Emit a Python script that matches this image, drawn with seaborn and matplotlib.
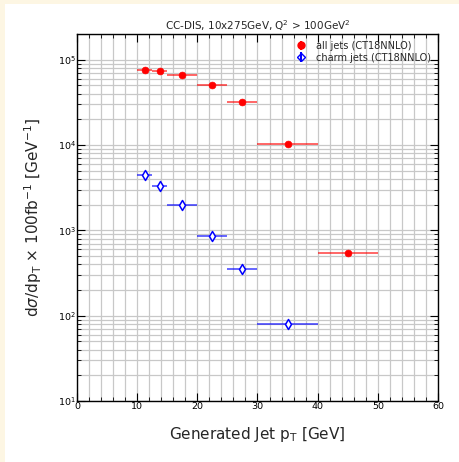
import numpy as np
import pandas as pd
import matplotlib
matplotlib.use("Agg")
import matplotlib.pyplot as plt
import seaborn as sns
from matplotlib.patches import Rectangle
from matplotlib.ticker import LogLocator, MultipleLocator, NullFormatter

# Data
bin_lo = [10, 12.5, 15, 20, 25, 30, 40]
bin_hi = [12.5, 15, 20, 25, 30, 40, 50]
all_jets = [7.6e4, 7.4e4, 6.7e4, 5.1e4, 3.2e4, 1.03e4, 540]
charm_lo = [10, 12.5, 15, 20, 25, 30]
charm_hi = [12.5, 15, 20, 25, 30, 40]
charm_jets = [4400, 3350, 1960, 850, 350, 80]

sns.set_theme(style="white")
plt.rcParams['font.family'] = ['DejaVu Sans']

fig = plt.figure(figsize=(4.6, 4.62), dpi=100)
fig.patch.set_facecolor('#fdf6e3')
fig.patches.append(Rectangle((5/460, 0), 1, 1 - 4/462, transform=fig.transFigure,
                             facecolor='white', edgecolor='none', zorder=-10))
ax = fig.add_axes([77/460, 1 - 401/462, (438-77)/460, (401-34)/462])
ax.set_facecolor('white')

df_all = pd.DataFrame({'lo': bin_lo, 'hi': bin_hi, 'y': all_jets})
df_all['x'] = (df_all['lo'] + df_all['hi']) / 2
df_all['xerr'] = (df_all['hi'] - df_all['lo']) / 2
df_c = pd.DataFrame({'lo': charm_lo, 'hi': charm_hi, 'y': charm_jets})
df_c['x'] = (df_c['lo'] + df_c['hi']) / 2
df_c['xerr'] = (df_c['hi'] - df_c['lo']) / 2

ax.errorbar(df_all['x'], df_all['y'], xerr=df_all['xerr'], fmt='none',
            ecolor='red', alpha=0.6, lw=1.4, zorder=3)
ax.errorbar(df_c['x'], df_c['y'], xerr=df_c['xerr'], fmt='none',
            ecolor='blue', alpha=0.6, lw=1.4, zorder=3)
sns.scatterplot(data=df_all, x='x', y='y', ax=ax, color='red', marker='o', s=24,
                edgecolor='red', linewidth=0.5, zorder=4, legend=False)
sns.scatterplot(data=df_c, x='x', y='y', ax=ax, marker='d', s=26,
                facecolor='white', edgecolor='blue', linewidth=1.1, zorder=4, legend=False)

ax.set_yscale('log')
ax.set_xlim(0, 60)
ax.set_ylim(10, 2e5)

ax.xaxis.set_major_locator(MultipleLocator(10))
ax.xaxis.set_minor_locator(MultipleLocator(2))
ax.yaxis.set_major_locator(LogLocator(base=10, numticks=10))
ax.yaxis.set_minor_locator(LogLocator(base=10, subs=np.arange(2, 10), numticks=10))
ax.yaxis.set_minor_formatter(NullFormatter())

ax.grid(True, which='both', color='#c8c8c8', lw=0.9)
ax.set_axisbelow(True)
ax.tick_params(which='both', direction='in', top=True, right=True, labelsize=6.8,
               pad=1, colors='black', bottom=True, left=True)
ax.tick_params(which='major', length=6, width=0.8)
ax.tick_params(which='minor', length=3, width=0.6)
for s in ax.spines.values():
    s.set_color('black')
    s.set_linewidth(1.0)

ax.set_xlabel(r'Generated Jet p$_\mathrm{T}$ [GeV]', fontsize=11, labelpad=10)
ax.set_ylabel(r'd$\sigma$/dp$_\mathrm{T}$ $\times$ 100fb$^{-1}$ [GeV$^{-1}$]', fontsize=11, labelpad=10)
ax.set_title(r'CC-DIS, 10x275GeV, Q$^2$ > 100GeV$^2$', fontsize=7.5, pad=3)

ax.errorbar([], [], yerr=[], fmt='o', color='red', ms=5, capsize=0, label='all jets (CT18NNLO)')
ax.errorbar([], [], yerr=[], fmt='D', color='blue', mfc='none', ms=4.5, capsize=0, label='charm jets (CT18NNLO)')
leg = ax.legend(loc='upper right', fontsize=7, frameon=False, handlelength=1.5,
                borderaxespad=0.3, labelspacing=0.2, handletextpad=0.8)

fig.savefig('out.png', dpi=100, facecolor=fig.get_facecolor())
